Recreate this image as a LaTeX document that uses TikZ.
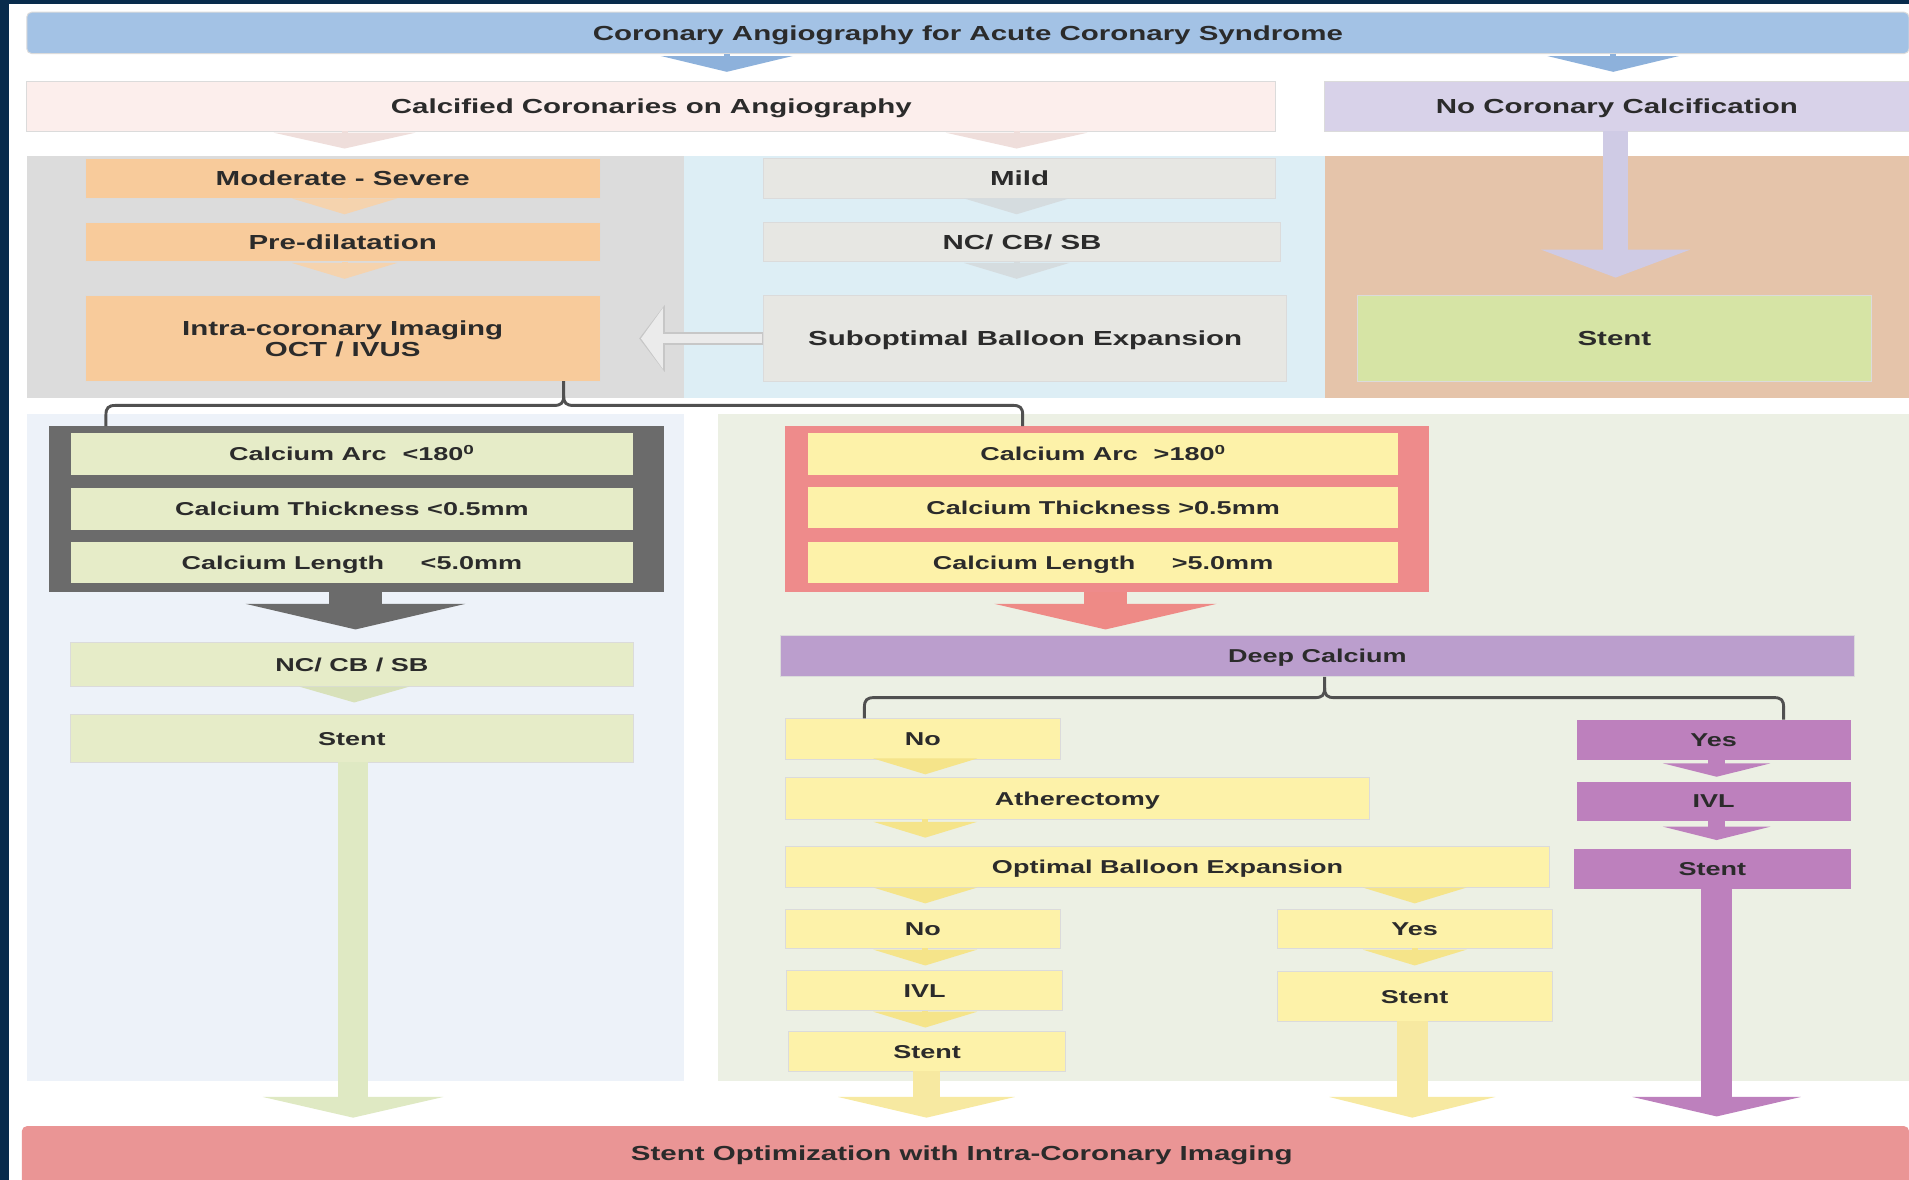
\documentclass[tikz,border=0pt]{standalone}
\usepackage{fontspec}
\newfontfamily\diagfont{Liberation Sans Bold}[FakeStretch=1.45]
\usetikzlibrary{arrows.meta}
\definecolor{navy}{HTML}{082B4C}
\definecolor{txt}{HTML}{2B2B2B}
\definecolor{topblue}{HTML}{A3C2E5}
\definecolor{topchev}{HTML}{8DB1DB}
\definecolor{calcpink}{HTML}{FCEEEC}
\definecolor{nocalc}{HTML}{D8D2E9}
\definecolor{graypanel}{HTML}{DCDCDC}
\definecolor{bluepanel}{HTML}{DDEEF5}
\definecolor{tanpanel}{HTML}{E5C4AA}
\definecolor{orangebox}{HTML}{F8CB9B}
\definecolor{orangechev}{HTML}{F5D3AE}
\definecolor{graybox}{HTML}{E7E7E3}
\definecolor{graychev}{HTML}{D5DCDF}
\definecolor{pinkchev}{HTML}{EFDEDB}
\definecolor{lavarrow}{HTML}{CFCBE5}
\definecolor{stentgreen}{HTML}{D6E4A5}
\definecolor{blpanel}{HTML}{EDF2F9}
\definecolor{brpanel}{HTML}{ECF0E4}
\definecolor{dframe}{HTML}{6B6B6B}
\definecolor{greenbox}{HTML}{E6ECC8}
\definecolor{greenchev}{HTML}{D8E1BA}
\definecolor{greenarrow}{HTML}{DFE9C3}
\definecolor{rframe}{HTML}{EE8B8B}
\definecolor{yellowbox}{HTML}{FDF2A9}
\definecolor{yellowchev}{HTML}{F5E48A}
\definecolor{salmon}{HTML}{EE8A86}
\definecolor{deepcal}{HTML}{BB9ECD}
\definecolor{purplebox}{HTML}{BD80BD}
\definecolor{finalbar}{HTML}{EA9595}
\definecolor{bracecol}{HTML}{505050}
\newcommand\ftbig{\fontsize{16.7}{17}\selectfont}
\newcommand\ftsmall{\fontsize{15.3}{17}\selectfont}
\newcommand\bx[7]{\node[#6, minimum width={(#4-#2)*1pt}, minimum height={(#5-#3)*1pt}] (#1) at (#2,#3) {#7};}
\begin{document}
\begin{tikzpicture}[x=1pt,y=-1pt,
  panel/.style={inner sep=0pt, outer sep=0pt, anchor=north west, draw=none},
  box/.style={draw=black!14, line width=0.8pt, inner sep=0pt, outer sep=0pt, anchor=north west, text=txt, align=center, font=\diagfont\ftbig, text height=12pt, text depth=0pt},
  sbox/.style={box, font=\diagfont\ftsmall, text height=11pt},
  chev/.style={line width=5pt, -{Triangle[width=#1,length=13pt]}},
  chev/.default=95pt,
  brace/.style={draw=bracecol, line width=2.4pt}]
\useasboundingbox (0,0) rectangle (1568,969);
\fill[navy] (0,0) rectangle (1568,969);
\fill[white] (7,3) rectangle (1568,969);
% panels
\bx{pgray}{22}{128}{562}{327}{panel, fill=graypanel}{}
\bx{pblue}{562}{128}{1088}{327}{panel, fill=bluepanel}{}
\bx{ptan}{1088}{128}{1568}{327}{panel, fill=tanpanel}{}
\bx{pbl}{22}{340}{562}{888}{panel, fill=blpanel}{}
\bx{pbr}{590}{340}{1568}{888}{panel, fill=brpanel}{}
% top rows
\bx{top}{22}{10}{1568}{44}{box, fill=topblue, rounded corners=4pt}{Coronary Angiography for Acute Coronary Syndrome}
\bx{calc}{22}{67}{1048}{108}{box, fill=calcpink}{Calcified Coronaries on Angiography}
\bx{nocalc}{1088}{67}{1568}{108}{box, fill=nocalc}{No Coronary Calcification}
\bx{mod}{70}{130}{493}{163}{box, fill=orangebox}{Moderate - Severe}
\bx{pre}{70}{183}{493}{215}{box, fill=orangebox}{Pre-dilatation}
\bx{icm}{70}{243}{493}{313}{box, fill=orangebox, text height=29pt, text depth=0pt}{Intra-coronary Imaging\\[0pt]OCT / IVUS}
\bx{mild}{627}{130}{1048}{163}{box, fill=graybox}{Mild}
\bx{nccb}{627}{183}{1052}{215}{box, fill=graybox}{NC/ CB/ SB}
\bx{sub}{627}{243}{1057}{313}{box, fill=graybox}{Suboptimal Balloon Expansion}
\bx{stentR}{1115}{243}{1537}{313}{box, fill=stentgreen}{Stent}
% left lower
\bx{dfr}{40}{350}{545}{486}{panel, fill=dframe}{}
\bx{arcL}{58}{356}{520}{390}{sbox, fill=greenbox, draw=none}{Calcium Arc\hspace{13pt}<180\textsuperscript{0}}
\bx{thkL}{58}{401}{520}{435}{sbox, fill=greenbox, draw=none}{Calcium Thickness <0.5mm}
\bx{lenL}{58}{445}{520}{479}{sbox, fill=greenbox, draw=none}{Calcium Length\hspace{30pt}<5.0mm}
\bx{nccbL}{58}{528}{520}{564}{sbox, fill=greenbox}{NC/ CB / SB}
\bx{stentL}{58}{587}{520}{626}{sbox, fill=greenbox}{Stent}
% right lower
\bx{rfr}{645}{350}{1174}{486}{panel, fill=rframe}{}
\bx{arcR}{664}{356}{1148}{390}{sbox, fill=yellowbox, draw=none}{Calcium Arc\hspace{13pt}>180\textsuperscript{0}}
\bx{thkR}{664}{400}{1148}{434}{sbox, fill=yellowbox, draw=none}{Calcium Thickness >0.5mm}
\bx{lenR}{664}{445}{1148}{479}{sbox, fill=yellowbox, draw=none}{Calcium Length\hspace{30pt}>5.0mm}
\bx{deep}{641}{522}{1523}{556}{sbox, fill=deepcal}{Deep Calcium}
\bx{noA}{645}{590}{871}{624}{sbox, fill=yellowbox}{No}
\bx{yesP}{1295}{591}{1520}{624}{sbox, fill=purplebox, draw=none}{Yes}
\bx{ath}{645}{639}{1125}{673}{sbox, fill=yellowbox}{Atherectomy}
\bx{ivlP}{1295}{642}{1520}{674}{sbox, fill=purplebox, draw=none}{IVL}
\bx{opt}{645}{695}{1273}{729}{sbox, fill=yellowbox}{Optimal Balloon Expansion}
\bx{stentP}{1293}{697}{1520}{730}{sbox, fill=purplebox, draw=none}{Stent}
\bx{noB}{645}{747}{871}{779}{sbox, fill=yellowbox}{No}
\bx{yesB}{1049}{747}{1275}{779}{sbox, fill=yellowbox}{Yes}
\bx{ivlY}{646}{797}{873}{830}{sbox, fill=yellowbox}{IVL}
\bx{stentY}{1049}{798}{1275}{839}{sbox, fill=yellowbox}{Stent}
\bx{stentB}{648}{847}{875}{880}{sbox, fill=yellowbox}{Stent}
\bx{final}{18}{925}{1568}{975}{box, fill=finalbar, draw=none, rounded corners=4pt}{}
\node[text=txt, font=\diagfont\ftbig, text height=12pt, text depth=0pt, inner sep=0pt] (finaltxt) at (790,947) {Stent Optimization with Intra-Coronary Imaging};
% chevrons top
\draw[chev=108pt, draw=topchev, shorten >=8pt] (top.south -| 597,0) -- (calc.north -| 597,0);
\draw[chev=108pt, draw=topchev, shorten >=8pt] (top.south -| 1325,0) -- (nocalc.north -| 1325,0);
\draw[chev=116pt, draw=pinkchev, shorten >=8pt] (calc.south -| 283,0) -- (mod.north -| 283,0);
\draw[chev=116pt, draw=pinkchev, shorten >=8pt] (calc.south -| 835,0) -- (mild.north -| 835,0);
\draw[chev=86pt, draw=orangechev, shorten >=7pt] (mod.south -| 283,0) -- (pre.north -| 283,0);
\draw[chev=86pt, draw=orangechev, shorten >=14pt] (pre.south -| 283,0) -- (icm.north -| 283,0);
\draw[chev=86pt, draw=graychev, shorten >=7pt] (mild.south -| 835,0) -- (nccb.north -| 835,0);
\draw[chev=86pt, draw=graychev, shorten >=14pt] (nccb.south -| 835,0) -- (sub.north -| 835,0);
% no calcification arrow
\draw[line width=20pt, draw=lavarrow, -{Triangle[width=122pt,length=23pt]}, shorten >=15pt] (nocalc.south -| 1327,0) -- (stentR.north -| 1327,0);
% hollow left arrow
\draw[line width=10pt, draw=black!22, -{Triangle[width=54pt,length=21pt]}, shorten >=32pt] (sub.west) -- (icm.east);
\draw[line width=7pt, draw=white!92!black, -{Triangle[width=49pt,length=18pt]}, shorten >=33.5pt, shorten <=1.5pt] (sub.west) -- (icm.east);
% braces
\draw[brace] (icm.south -| 463,0) -- (463,325) .. controls (463,331) and (461,333) .. (455,333) -- (95,333) .. controls (89,333) and (87,335) .. (87,341) -- (dfr.north -| 87,0);
\draw[brace] (463,325) .. controls (463,331) and (465,333) .. (471,333) -- (832,333) .. controls (838,333) and (840,335) .. (840,341) -- (rfr.north -| 840,0);
\draw[brace] (deep.south -| 1088,0) -- (1088,565) .. controls (1088,571) and (1086,573) .. (1080,573) -- (718,573) .. controls (712,573) and (710,575) .. (710,581) -- (noA.north -| 710,0);
\draw[brace] (1088,565) .. controls (1088,571) and (1090,573) .. (1096,573) -- (1457,573) .. controls (1463,573) and (1465,575) .. (1465,581) -- (yesP.north -| 1465,0);
% frame arrows
\draw[line width=44pt, draw=dframe, -{Triangle[width=180pt,length=21pt]}, shorten >=11pt] (dfr.south -| 292,0) -- (nccbL.north -| 292,0);
\draw[line width=36pt, draw=salmon, -{Triangle[width=182pt,length=21pt]}, shorten >=5pt] (rfr.south -| 908,0) -- (deep.north -| 908,0);
% left lower chain
\draw[chev=90pt, draw=greenchev, shorten >=10pt] (nccbL.south -| 291,0) -- (stentL.north -| 291,0);
\draw[line width=25pt, draw=greenarrow, -{Triangle[width=148pt,length=17pt]}, shorten >=7pt] (stentL.south -| 290,0) -- (final.north -| 290,0);
% yellow chain
\draw[chev=85pt, draw=yellowchev, shorten >=3pt] (noA.south -| 760,0) -- (ath.north -| 760,0);
\draw[chev=85pt, draw=yellowchev, shorten >=7pt] (ath.south -| 760,0) -- (opt.north -| 760,0);
\draw[chev=85pt, draw=yellowchev, shorten >=5pt] (opt.south -| 760,0) -- (noB.north -| 760,0);
\draw[chev=85pt, draw=yellowchev, shorten >=5pt] (opt.south -| 1162,0) -- (yesB.north -| 1162,0);
\draw[chev=85pt, draw=yellowchev, shorten >=4pt] (noB.south -| 760,0) -- (ivlY.north -| 760,0);
\draw[chev=85pt, draw=yellowchev, shorten >=5pt] (yesB.south -| 1162,0) -- (stentY.north -| 1162,0);
\draw[chev=85pt, draw=yellowchev, shorten >=3pt] (ivlY.south -| 760,0) -- (stentB.north -| 760,0);
\draw[line width=22pt, draw=yellowchev!80!white, -{Triangle[width=145pt,length=17pt]}, shorten >=7pt] (stentB.south -| 761,0) -- (final.north -| 761,0);
\draw[line width=25pt, draw=yellowchev!80!white, -{Triangle[width=136pt,length=17pt]}, shorten >=7pt] (stentY.south -| 1160,0) -- (final.north -| 1160,0);
% purple chain
\draw[line width=14pt, draw=purplebox, -{Triangle[width=88pt,length=11pt]}, shorten >=4pt] (yesP.south -| 1410,0) -- (ivlP.north -| 1410,0);
\draw[line width=14pt, draw=purplebox, -{Triangle[width=88pt,length=11pt]}, shorten >=7pt] (ivlP.south -| 1410,0) -- (stentP.north -| 1410,0);
\draw[line width=25pt, draw=purplebox, -{Triangle[width=138pt,length=16pt]}, shorten >=8pt] (stentP.south -| 1410,0) -- (final.north -| 1410,0);
\end{tikzpicture}
\end{document}
